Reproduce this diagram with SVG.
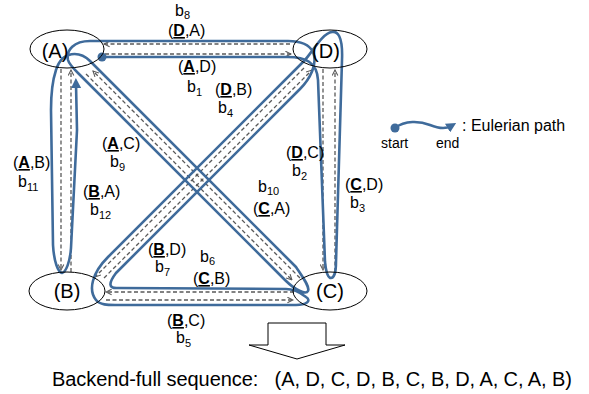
<svg xmlns="http://www.w3.org/2000/svg" width="589" height="394" viewBox="0 0 589 394">
<style>
text{font-family:"Liberation Sans",Arial,sans-serif;fill:#000}
.node{fill:none;stroke:#000;stroke-width:1}
.nl{font-size:20px;text-anchor:middle}
.el{font-size:16px}
.sub{font-size:11px}
.k{font-weight:bold;text-decoration:underline}
.dash{fill:none;stroke:#595959;stroke-width:1.3;stroke-dasharray:4 2.5;marker-end:url(#ah)}
.blue{fill:none;stroke:#3f6b9b;stroke-width:2.6;stroke-linejoin:round;stroke-linecap:round}
</style>
<defs>
<marker id="ah" viewBox="0 0 10 10" refX="9" refY="5" markerWidth="7" markerHeight="7" orient="auto" markerUnits="userSpaceOnUse">
<path d="M1,1 L9,5 L1,9" fill="none" stroke="#595959" stroke-width="1.5"/>
</marker>
<marker id="bh" viewBox="0 0 10 10" refX="4" refY="5" markerWidth="10" markerHeight="10" orient="auto" markerUnits="userSpaceOnUse">
<path d="M0,0 L10,5 L0,10 z" fill="#3f6b9b"/>
</marker>
</defs>
<g id="connectors">
<path class="dash" d="M290,44 L104,44"/>
<path class="dash" d="M105,54 L291,54"/>
<path class="dash" d="M323,69 L323,270"/>
<path class="dash" d="M335,272 L335,70"/>
<path class="dash" d="M86,74 L292,280"/>
<path class="dash" d="M300,278 L93,71"/>
<path class="dash" d="M304,68 L95,277"/>
<path class="dash" d="M104,278 L312,70"/>
<path class="dash" d="M106,300 L293,300"/>
<path class="dash" d="M294,292 L106,292"/>
<path class="dash" d="M61,69 L61,270"/>
<path class="dash" d="M71,272 L71,70"/>
</g>
<g id="eulerian-path">
<path class="blue" marker-end="url(#bh)" d="M102,57 L288,57 C305,57 317,62 318,80 L325,262 C326,272 328,278 331,278 C334,278 336,272 336,262 L342,60 C343,35 337,31 332,32 C322,33 312,53 304,61 L108,257 C92,273 88,290 96,300 C100,305 108,305 115,305 L296,305 C306,305 312,301 306,297 C302,294 296,289 286,289 L118,288 Q104,289 116,273 L300,89 C310,79 318,64 313,52 C309,44 300,41 288,41 L90,41 C74,41 66,50 68,60 C69,64 72,67 78,73 L285,280 C295,290 306,295 308,291 C310,287 304,279 296,267 L90,61 C80,51 62,50 56,70 C52,82 51,95 51,110 L53,245 C54,262 58,272 62,273 C66,272 70,262 71,248 L77,130 L76,84"/>
<circle cx="102" cy="57" r="4.5" fill="#3f6b9b"/>
</g>
<g id="node-A"><ellipse class="node" cx="67" cy="49" rx="37" ry="19"/><text class="nl" x="55" y="58">(A)</text></g>
<g id="node-D"><ellipse class="node" cx="330" cy="49" rx="37" ry="19"/><text class="nl" x="326" y="58">(D)</text></g>
<g id="node-B"><ellipse class="node" cx="67" cy="291" rx="38" ry="19"/><text class="nl" x="67" y="298">(B)</text></g>
<g id="node-C"><ellipse class="node" cx="330" cy="291" rx="37" ry="19"/><text class="nl" x="330" y="298">(C)</text></g>
<g id="labels">
<text class="el" x="175" y="16">b<tspan class="sub" dy="3">8</tspan></text>
<text class="el" x="168" y="36">(<tspan class="k">D</tspan>,A)</text>
<text class="el" x="178" y="72">(<tspan class="k">A</tspan>,D)</text>
<text class="el" x="187" y="92">b<tspan class="sub" dy="4">1</tspan></text>
<text class="el" x="215" y="95">(<tspan class="k">D</tspan>,B)</text>
<text class="el" x="218" y="113">b<tspan class="sub" dy="4">4</tspan></text>
<text class="el" x="102" y="149">(<tspan class="k">A</tspan>,C)</text>
<text class="el" x="110" y="167">b<tspan class="sub" dy="4">9</tspan></text>
<text class="el" x="13" y="168">(<tspan class="k">A</tspan>,B)</text>
<text class="el" x="18" y="187">b<tspan class="sub" dy="4">11</tspan></text>
<text class="el" x="83" y="197">(<tspan class="k">B</tspan>,A)</text>
<text class="el" x="90" y="215">b<tspan class="sub" dy="4">12</tspan></text>
<text class="el" x="286" y="158">(<tspan class="k">D</tspan>,C)</text>
<text class="el" x="292" y="176">b<tspan class="sub" dy="4">2</tspan></text>
<text class="el" x="345" y="190">(<tspan class="k">C</tspan>,D)</text>
<text class="el" x="350" y="208">b<tspan class="sub" dy="4">3</tspan></text>
<text class="el" x="258" y="192">b<tspan class="sub" dy="3">10</tspan></text>
<text class="el" x="253" y="214">(<tspan class="k">C</tspan>,A)</text>
<text class="el" x="148" y="255">(<tspan class="k">B</tspan>,D)</text>
<text class="el" x="155" y="272">b<tspan class="sub" dy="4">7</tspan></text>
<text class="el" x="200" y="262">b<tspan class="sub" dy="3">6</tspan></text>
<text class="el" x="193" y="284">(<tspan class="k">C</tspan>,B)</text>
<text class="el" x="167" y="326">(<tspan class="k">B</tspan>,C)</text>
<text class="el" x="176" y="343">b<tspan class="sub" dy="4">5</tspan></text>
</g>
<g id="legend">
<circle cx="395" cy="128" r="4.5" fill="#3f6b9b"/>
<path class="blue" marker-end="url(#bh)" d="M395,128 C405,120 420,121 430,125 C440,129 446,129 451,126"/>
<text x="462" y="131" style="font-size:16px">: Eulerian path</text>
<text x="381" y="148" style="font-size:14px">start</text>
<text x="436" y="148" style="font-size:14px">end</text>
</g>
<g id="result-arrow">
<polygon points="268,323 326,323 326,345 345,345 297,359 249,345 268,345" fill="#fff" stroke="#000" stroke-width="1"/>
</g>
<text x="52" y="386" xml:space="preserve" style="font-size:20px" textLength="520" lengthAdjust="spacing">Backend-full sequence:   (A, D, C, D, B, C, B, D, A, C, A, B)</text>
</svg>
